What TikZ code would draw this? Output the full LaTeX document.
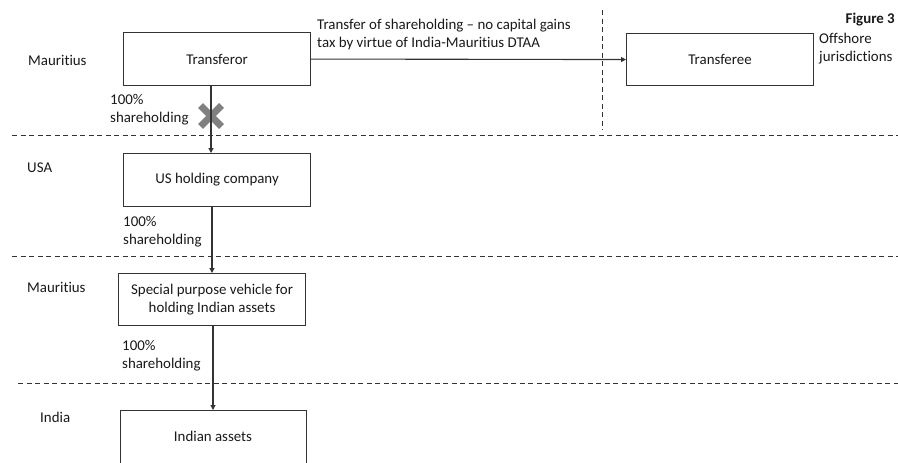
\documentclass[tikz,border=0pt]{standalone}
\usepackage{fontspec}
\setmainfont{Carlito}[Ligatures=NoCommon]
\usetikzlibrary{arrows.meta}
\begin{document}
\begin{tikzpicture}[x=1pt,y=-1pt,
  every node/.style={font=\fontsize{14.9}{18}\selectfont, text=black!90},
  entity/.style={draw=black!80, line width=1.1pt, minimum width=187pt, anchor=north west, inner sep=0pt, align=center},
  lab/.style={anchor=west, inner sep=0pt, align=left},
  sep/.style={draw=black!80, line width=0.9pt, dash pattern=on 5pt off 3.5pt},
  link/.style={draw=black!80, line width=1.1pt, -{Triangle[length=5pt,width=5pt]}}]
\useasboundingbox (0,0) rectangle (898,463);
% boxes
\node[entity, minimum height=53pt] (tor) at (123,32) {Transferor};
\node[entity, minimum height=52pt] (tee) at (626,33) {Transferee};
\node[entity, minimum height=53pt] (us) at (123,153) {US holding company};
\node[entity, minimum height=52pt] (spv) at (118,273) {Special purpose vehicle for\\holding Indian assets};
\node[entity, minimum height=70pt, minimum width=186pt] (ia) at (120,410) {};
\node (iat) at (213,436) {Indian assets};
% jurisdiction labels
\node[lab] (m1) at (28,60) {Mauritius};
\node[lab] (usa) at (27,168) {USA};
\node[lab] (m2) at (27,287) {Mauritius};
\node[lab] (ind) at (40,417) {India};
\node[lab] (off) at (819,49) {Offshore\\jurisdictions};
\node[anchor=east, inner sep=0pt] (fig) at (895,20) {\textbf{Figure 3}};
% separators
\coordinate (s1a) at (12,135); \coordinate (s1b) at (898,135);
\coordinate (s2a) at (12,256); \coordinate (s2b) at (898,256);
\coordinate (s3a) at (18,383); \coordinate (s3b) at (898,383);
\coordinate (v1a) at (602,10); \coordinate (v1b) at (602,130);
\draw[sep] (s1a) -- (s1b);
\draw[sep] (s2a) -- (s2b);
\draw[sep] (s3a) -- (s3b);
\draw[sep] (v1a) -- (v1b);
% cross
\coordinate (xc) at (211,116);
\draw[line width=7pt, color=black!50] ([shift={(-10.5,-10.5)}]xc) -- ([shift={(10.5,10.5)}]xc);
\draw[line width=7pt, color=black!50] ([shift={(-10.5,10.5)}]xc) -- ([shift={(10.5,-10.5)}]xc);
% connectors
\draw[link] (tor.east) -- (tee.west);
\node[lab] (tr) at (317,35) {Transfer of shareholding -- no capital gains\\tax by virtue of India-Mauritius DTAA};
\draw[link] (tor.south -| 211,0) -- (us.north -| 211,0);
\draw[link] (us.south -| 212,0) -- (spv.north -| 212,0);
\draw[link] (spv.south -| 213,0) -- (ia.north -| 213,0);
\node[lab] (h1) at (110,110) {100\%\\shareholding};
\node[lab] (h2) at (123,232) {100\%\\shareholding};
\node[lab] (h3) at (122,356) {100\%\\shareholding};
\end{tikzpicture}
\end{document}
